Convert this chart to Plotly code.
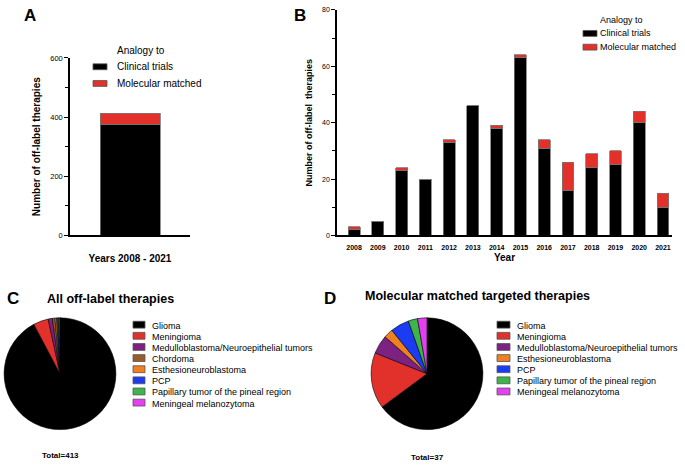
import plotly.graph_objects as go

# ---------------- data ----------------
years = ["2008", "2009", "2010", "2011", "2012", "2013", "2014",
         "2015", "2016", "2017", "2018", "2019", "2020", "2021"]
clinical_trials = [2, 5, 23, 20, 33, 46, 38, 63, 31, 16, 24, 25, 40, 10]
molecular_matched = [1, 0, 1, 0, 1, 0, 1, 1, 3, 10, 5, 5, 4, 5]

total_category = ["Years 2008 - 2021"]
total_clinical = [sum(clinical_trials)]
total_molecular = [sum(molecular_matched)]

series_names = ["Clinical trials", "Molecular matched"]
series_colors = ["#000000", "#e2312a"]

c_labels = ["Glioma", "Meningioma", "Medulloblastoma/Neuroepithelial tumors",
            "Chordoma", "Esthesioneuroblastoma", "PCP",
            "Papillary tumor of the pineal region", "Meningeal melanozytoma"]
c_values = [381, 18, 5, 3, 2, 2, 1, 1]
c_colors = ["#000000", "#e2312a", "#7d2182", "#9b5c2b", "#f07f22",
            "#1b3cf2", "#3db54a", "#e43ff0"]

d_labels = ["Glioma", "Meningioma", "Medulloblastoma/Neuroepithelial tumors",
            "Esthesioneuroblastoma", "PCP",
            "Papillary tumor of the pineal region", "Meningeal melanozytoma"]
d_values = [24, 6, 2, 1, 2, 1, 1]
d_colors = ["#000000", "#e2312a", "#7d2182", "#f07f22",
            "#1b3cf2", "#3db54a", "#e43ff0"]

# ---------------- helpers ----------------
W, H = 685, 466
FONT = "Arial, Liberation Sans, Helvetica, sans-serif"


def px(x):
    return x / W


def py(y):
    return 1 - y / H


fig = go.Figure()

# Panel A bars
for name, vals, col in zip(series_names, [total_clinical, total_molecular], series_colors):
    fig.add_trace(go.Bar(x=total_category, y=vals, name=name, width=0.5,
                         marker=dict(color=col, line=dict(color="#777777", width=0.8)),
                         xaxis="x", yaxis="y", showlegend=False))

# Panel B bars
for name, vals, col in zip(series_names, [clinical_trials, molecular_matched], series_colors):
    fig.add_trace(go.Bar(x=years, y=vals, name=name, width=0.5,
                         marker=dict(color=col, line=dict(color="#777777", width=0.8)),
                         xaxis="x2", yaxis="y2", showlegend=False))

# Pies
fig.add_trace(go.Pie(labels=c_labels, values=c_values, sort=False, direction="clockwise",
                     marker=dict(colors=c_colors, line=dict(color="#000000", width=0.6)),
                     textinfo="none", showlegend=False,
                     domain=dict(x=[px(3), px(117)], y=[py(434), py(320)])))
fig.add_trace(go.Pie(labels=d_labels, values=d_values, sort=False, direction="clockwise",
                     marker=dict(colors=d_colors, line=dict(color="#000000", width=0.6)),
                     textinfo="none", showlegend=False,
                     domain=dict(x=[px(370), px(484)], y=[py(434), py(320)])))

axis_common = dict(showline=True, linecolor="#000000", linewidth=1.5,
                   showgrid=False, zeroline=False, ticks="outside",
                   tickcolor="#000000", tickwidth=1.2)

fig.update_layout(
    width=W, height=H, margin=dict(l=0, r=0, t=0, b=0),
    paper_bgcolor="white", plot_bgcolor="white",
    barmode="stack", bargap=0.5,
    font=dict(family=FONT, color="#000000"),
    xaxis=dict(**axis_common, domain=[px(70), px(190)], anchor="y",
               range=[-0.5, 0.5], showticklabels=False, ticklen=0,
               title=dict(text="<b>Years 2008 - 2021</b>", font=dict(size=10, color="#000000"), standoff=19)),
    yaxis=dict(**axis_common, domain=[py(236), py(55)], anchor="x",
               range=[0, 600], tickvals=[0, 200, 400, 600], ticklen=4,
               tickfont=dict(size=7.5, color="#000000"), tickprefix="<b>", ticksuffix="</b>",
               minor=dict(tickvals=[100, 300, 500], ticks="outside", ticklen=3,
                          tickcolor="#000000", tickwidth=1.2),
               title=dict(text="<b>Number of off-label therapies</b>", font=dict(size=10, color="#000000"), standoff=8)),
    xaxis2=dict(**axis_common, domain=[px(337), px(672)], anchor="y2",
                range=[-0.72, 13.38], ticklen=0, tickfont=dict(size=7, color="#000000"),
                ticklabelstandoff=4,
                tickprefix="<b>", ticksuffix="</b>",
                title=dict(text="<b>Year</b>", font=dict(size=10, color="#000000"), standoff=4)),
    yaxis2=dict(**axis_common, domain=[py(236), py(6)], anchor="x2",
                range=[0, 80], tickvals=[0, 20, 40, 60, 80], ticklen=4,
                tickfont=dict(size=7, color="#000000"), tickprefix="<b>", ticksuffix="</b>",
                minor=dict(tickvals=[10, 30, 50, 70], ticks="outside", ticklen=3,
                           tickcolor="#000000", tickwidth=1.2),
                title=dict(text="<b>Number of off-label  therapies</b>", font=dict(size=9, color="#000000"), standoff=8)),
)

annotations = []
shapes = []


def text(x, y, s, size, bold=False, xanchor="left"):
    annotations.append(dict(x=px(x), y=py(y), xref="paper", yref="paper",
                            text=f"<b>{s}</b>" if bold else s, showarrow=False,
                            xanchor=xanchor, yanchor="middle",
                            font=dict(size=size, family=FONT, color="#000000")))


def swatch(x0, y0, w, h, col):
    shapes.append(dict(type="rect", xref="paper", yref="paper",
                       x0=px(x0), x1=px(x0 + w), y0=py(y0 + h / 2), y1=py(y0 - h / 2),
                       fillcolor=col, line=dict(color="#555555", width=0.8)))


# panel letters
text(30, 12, "A", 17, True, "center")
text(300, 12, "B", 17, True, "center")
text(13, 300, "C", 17, True, "center")
text(330, 300, "D", 17, True, "center")

# Legend A
text(115, 47, "Analogy to", 10)
for i, (name, col) in enumerate(zip(series_names, series_colors)):
    yy = 64 + i * 17
    swatch(93, yy, 14, 6, col)
    text(115, yy, name, 10)

# Legend B
text(598, 16, "Analogy to", 9)
for i, (name, col) in enumerate(zip(series_names, series_colors)):
    yy = 30 + i * 14
    swatch(583, yy, 14, 6, col)
    text(598, yy, name, 9)

# Pie titles / totals
text(110, 301, "All off-label therapies", 12.5, True, "center")
text(478, 298, "Molecular matched targeted therapies", 12.5, True, "center")
text(60, 460, "Total=413", 8, True, "center")
text(427, 462, "Total=37", 8, True, "center")

# Pie legends
for i, (lab, col) in enumerate(zip(c_labels, c_colors)):
    yy = 328 + i * 11.35
    swatch(133, yy - 1, 12, 7, col)
    text(150, yy, lab, 9)
for i, (lab, col) in enumerate(zip(d_labels, d_colors)):
    yy = 328 + i * 11.35
    swatch(497, yy - 1, 13, 7, col)
    text(515, yy, lab, 9)

fig.update_layout(annotations=annotations, shapes=shapes)
fig.write_html("out.html", config={"displayModeBar": False},
               post_script="document.body.style.margin='0';document.body.style.overflow='hidden';")
